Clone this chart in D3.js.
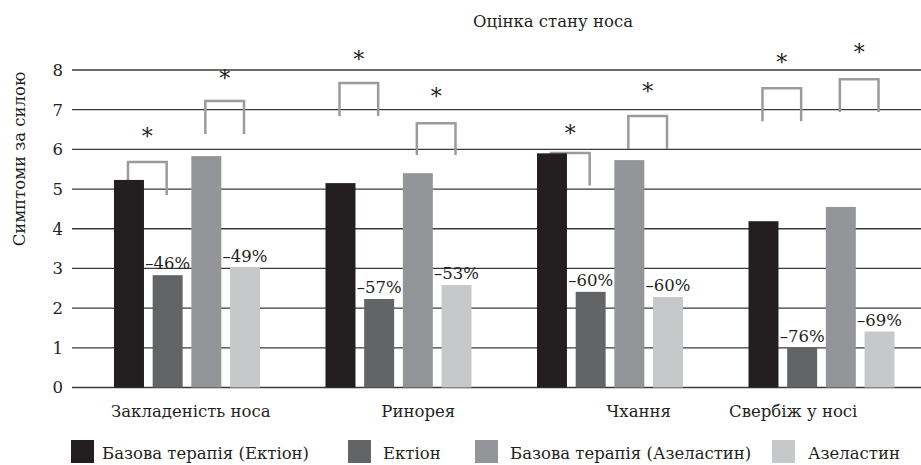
<!DOCTYPE html>
<html>
<head>
<meta charset="utf-8">
<script src="https://cdn.jsdelivr.net/npm/d3@7"></script>
<style>
  body { margin: 0; background: #fff; }
  svg text { font-family: "DejaVu Serif", "Liberation Serif", serif; fill: #231f20; }
</style>
</head>
<body>
<div id="chart"></div>
<script>
// data
const categories = ["Закладеність носа", "Ринорея", "Чхання", "Свербіж у носі"];
const seriesNames = ["Базова терапія (Ектіон)", "Ектіон", "Базова терапія (Азеластин)", "Азеластин"];
const baseEktion = [5.23, 5.15, 5.90, 4.19];
const ektion = [2.83, 2.23, 2.41, 1.00];
const baseAzel = [5.83, 5.40, 5.73, 4.55];
const azel = [3.02, 2.58, 2.28, 1.41];
const pctEktion = [-46, -57, -60, -76];
const pctAzel = [-49, -53, -60, -69];
const yTicks = [0, 1, 2, 3, 4, 5, 6, 7, 8];

// significance brackets, per category: [Ектіон pair, Азеластин pair]
const bracketTop = [[5.68, 7.22], [7.67, 6.66], [5.91, 6.84], [7.54, 7.77]];
const bracketLeg = [[4.85, 6.39], [6.84, 5.86], [5.09, 6.01], [6.71, 6.94]];
const starLevel = [[6.41, 7.87], [8.35, 7.42], [6.49, 7.54], [8.27, 8.53]];

const colors = ["#231f20", "#636466", "#939598", "#c7c8ca"];

const width = 921, height = 465;
const plotLeft = 75, plotRight = 921;
const fs = 16.5;

const svg = d3.select("#chart").append("svg")
    .attr("width", width)
    .attr("height", height);

const x0 = d3.scaleBand().domain(categories).range([plotLeft, plotRight]);
const x1 = d3.scaleBand().domain(seriesNames).range([39, 185]).paddingInner(0.225);
const y = d3.scaleLinear().domain([0, 8]).range([387.5, 70]);

const rows = categories.map((c, i) => ({
    cat: c,
    vals: [baseEktion[i], ektion[i], baseAzel[i], azel[i]]
}));

// title
svg.append("text")
    .attr("x", 553).attr("y", 27)
    .attr("text-anchor", "middle")
    .attr("font-size", fs)
    .text("Оцінка стану носа");

// y axis title
svg.append("text")
    .attr("transform", "translate(25,159) rotate(-90)")
    .attr("text-anchor", "middle")
    .attr("font-size", fs)
    .text("Симптоми за силою");

// grid lines
svg.append("g")
    .selectAll("line")
    .data(yTicks)
    .join("line")
    .attr("x1", plotLeft - 3).attr("x2", plotRight)
    .attr("y1", d => y(d)).attr("y2", d => y(d))
    .attr("stroke", "#3a3a3a")
    .attr("stroke-width", 1.3);

// tick labels
svg.append("g")
    .selectAll("text")
    .data(yTicks)
    .join("text")
    .attr("x", 63)
    .attr("y", d => y(d))
    .attr("dy", "0.36em")
    .attr("text-anchor", "end")
    .attr("font-size", fs)
    .text(d => d);

// brackets (under the bars)
const pairs = [[0, 1], [2, 3]];
const brackets = [];
categories.forEach((c, i) => {
    pairs.forEach((p, j) => {
        const xa = x0(c) + x1(seriesNames[p[0]]) + x1.bandwidth() / 2 - 1;
        const xb = x0(c) + x1(seriesNames[p[1]]) + x1.bandwidth() / 2 - 1;
        brackets.push({xa, xb, top: bracketTop[i][j], leg: bracketLeg[i][j], star: starLevel[i][j]});
    });
});

svg.append("g")
    .selectAll("path")
    .data(brackets)
    .join("path")
    .attr("d", d => `M${d.xa},${y(d.leg)}V${y(d.top)}H${d.xb}V${y(d.leg)}`)
    .attr("fill", "none")
    .attr("stroke", "#9a9b9d")
    .attr("stroke-width", 2.5);

svg.append("g")
    .selectAll("text")
    .data(brackets)
    .join("text")
    .attr("x", d => (d.xa + d.xb) / 2)
    .attr("y", d => y(d.star) + 11)
    .attr("text-anchor", "middle")
    .attr("font-size", 22)
    .text("*");

// bars
const group = svg.append("g")
    .selectAll("g")
    .data(rows)
    .join("g")
    .attr("transform", d => `translate(${x0(d.cat)},0)`);

group.selectAll("rect")
    .data(d => d.vals.map((v, k) => ({name: seriesNames[k], v, k})))
    .join("rect")
    .attr("x", d => x1(d.name))
    .attr("width", x1.bandwidth())
    .attr("y", d => y(d.v))
    .attr("height", d => y(0) - y(d.v))
    .attr("fill", d => colors[d.k]);

// percent labels
const fmtPct = v => "\u2013" + Math.abs(v) + "%";
group.each(function(d, i) {
    const g = d3.select(this);
    [[1, pctEktion[i]], [3, pctAzel[i]]].forEach(([k, p]) => {
        g.append("text")
            .attr("x", x1(seriesNames[k]) + x1.bandwidth() / 2)
            .attr("y", y(d.vals[k]) - 6)
            .attr("text-anchor", "middle")
            .attr("font-size", fs)
            .text(fmtPct(p));
    });
});

// category labels (placed a bit off-centre, as in the source)
const labelShift = [10, 26, 35, -22];
svg.append("g")
    .selectAll("text")
    .data(categories)
    .join("text")
    .attr("x", (d, i) => x0(d) + x0.bandwidth() / 2 + labelShift[i])
    .attr("y", 417)
    .attr("text-anchor", "middle")
    .attr("font-size", fs)
    .text(d => d);

// legend
const legendX = [71, 348, 475, 772];
const legendTextX = [31, 35, 35, 36];
const legend = svg.append("g")
    .selectAll("g")
    .data(seriesNames)
    .join("g")
    .attr("transform", (d, i) => `translate(${legendX[i]},440)`);

legend.append("rect")
    .attr("width", 23).attr("height", 23)
    .attr("fill", (d, i) => colors[i]);

legend.append("text")
    .attr("x", (d, i) => legendTextX[i])
    .attr("y", 18.5)
    .attr("font-size", fs)
    .text(d => d);
</script>
</body>
</html>
